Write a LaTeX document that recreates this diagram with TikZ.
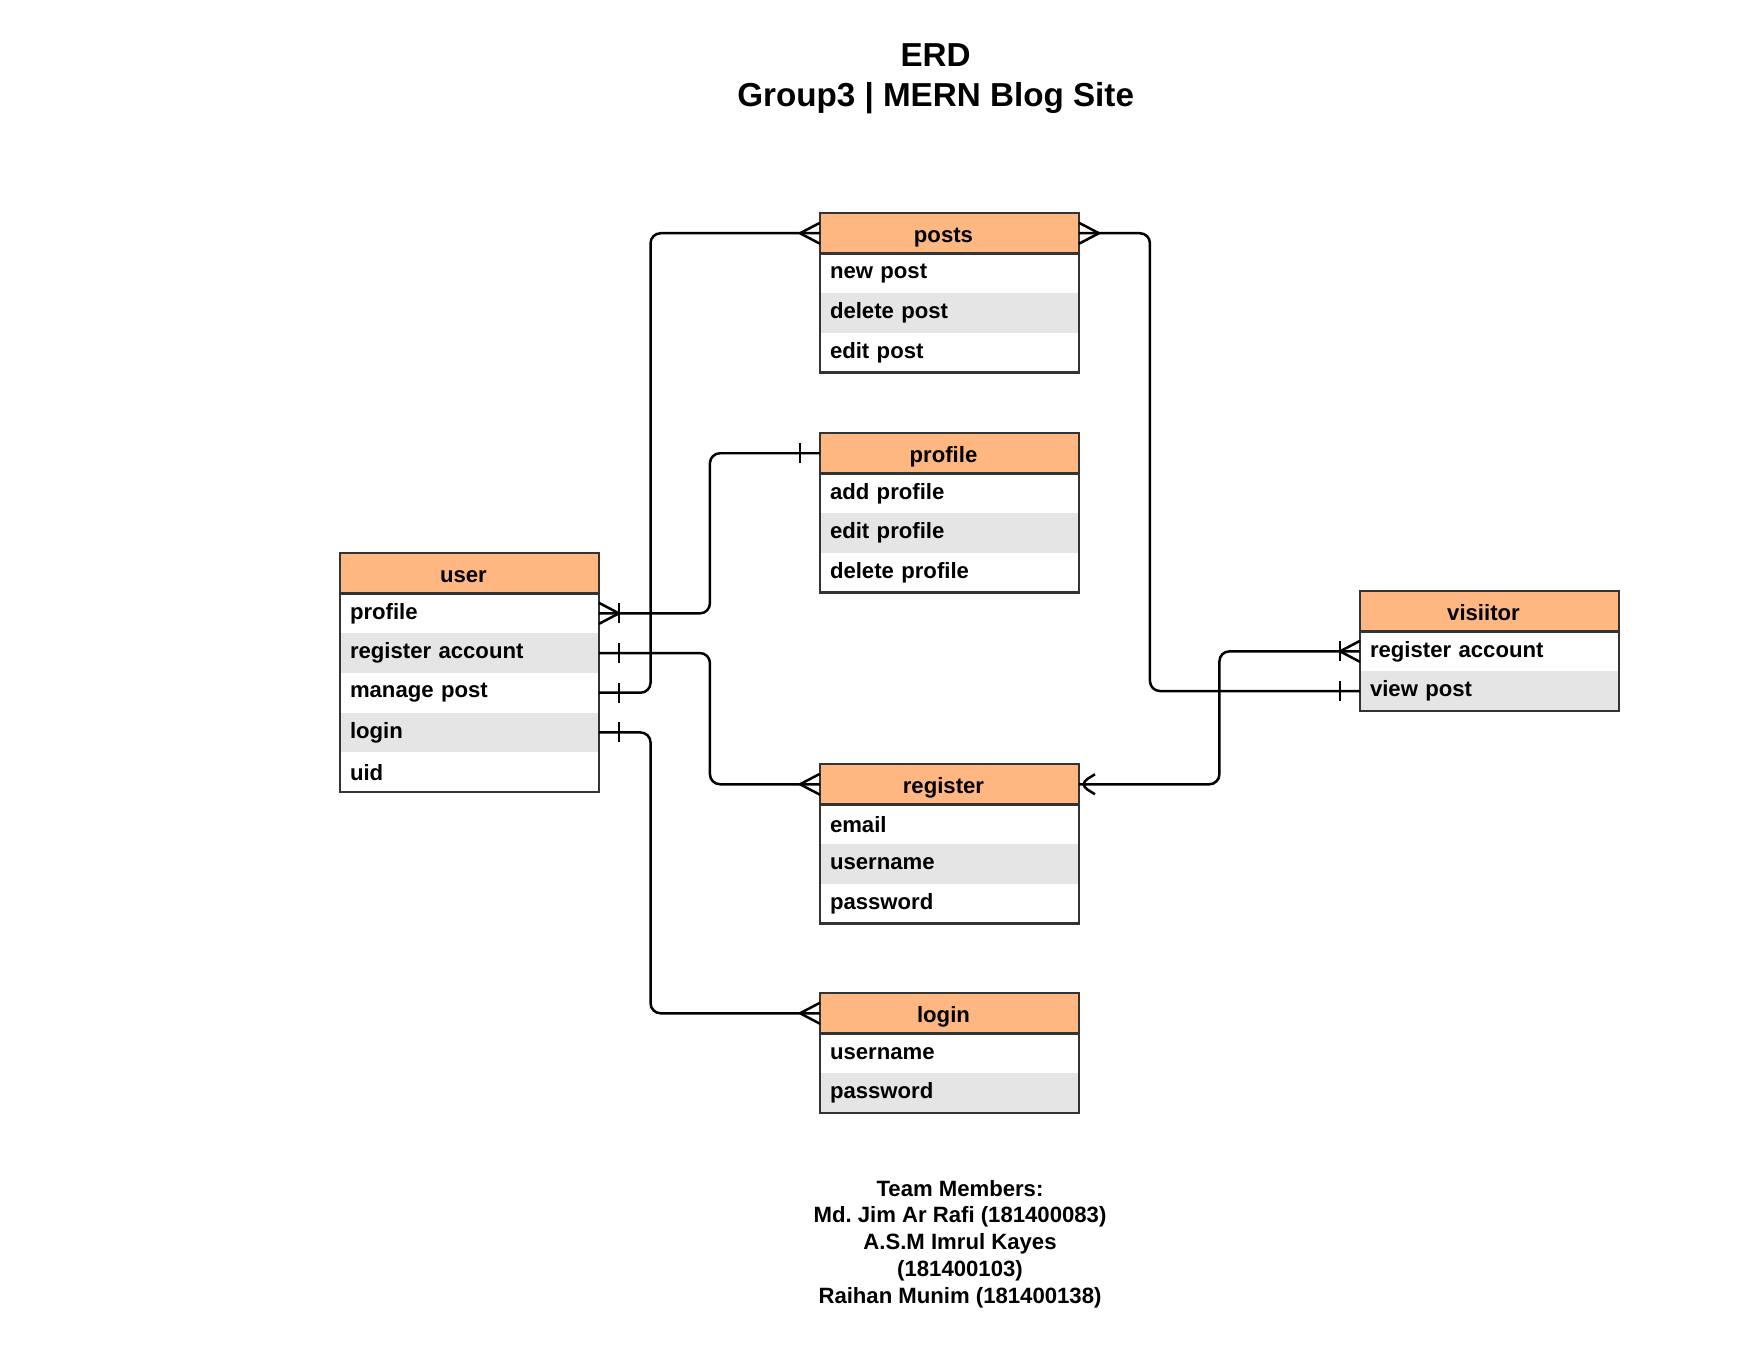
\documentclass[tikz,border=0pt]{standalone}
\usepackage{fontspec}
\setmainfont{Liberation Sans}
\usepackage{xcolor}
\definecolor{erdorange}{RGB}{255,183,130}
\definecolor{erdgray}{RGB}{229,229,229}
\definecolor{erdline}{RGB}{51,51,51}
\usetikzlibrary{positioning, calc, decorations.markings}

\newcommand{\erdfont}{\bfseries\fontsize{12.6}{15}\selectfont}

\tikzset{
  hdr/.style={draw=erdline, fill=erdorange, line width=0.05cm, minimum width=5.18cm,
              minimum height=0.81cm, inner sep=0pt, outer sep=0pt, font=\erdfont, anchor=north west,
              text height=0.36cm, text depth=0pt, execute at end node={\hspace*{0.24cm}}},
  attr/.style={fill=#1, inner xsep=0.2cm, inner ysep=0pt, text width=4.78cm, align=left,
               minimum height=0.794cm, outer sep=0pt, font=\erdfont, anchor=north west},
  frame/.style={draw=erdline, line width=0.05cm},
  conn/.style={draw=black, line width=0.05cm, rounded corners=0.2cm},
  crowstart/.style={postaction={decorate, decoration={markings,
      mark=at position 0.4cm with {\draw (0,0) -- (-0.4cm,0.21cm) (0,0) -- (-0.4cm,-0.21cm);}}}},
  crowend/.style={postaction={decorate, decoration={markings,
      mark=at position -0.4cm with {\draw (0,0) -- (0.4cm,0.21cm) (0,0) -- (0.4cm,-0.21cm);}}}},
  barstart/.style={postaction={decorate, decoration={markings,
      mark=at position 0.4cm with {\draw (0,-0.2cm) -- (0,0.2cm);}}}},
  barend/.style={postaction={decorate, decoration={markings,
      mark=at position -0.4cm with {\draw (0,-0.2cm) -- (0,0.2cm);}}}},
  openend/.style={postaction={decorate, decoration={markings,
      mark=at position -0.32cm with {\draw (0,0.2cm) -- (0.32cm,0) -- (0,-0.2cm);}}}}
}

\begin{document}
\begin{tikzpicture}[x=0.02cm, y=-0.02cm]
  \useasboundingbox (0,0) rectangle (1759,1359);

  % Title
  \node[font=\bfseries\fontsize{18.9}{22.9}\selectfont, align=center] (title) at (935.6,78.5)
        {ERD\\Group3 | MERN Blog Site};

  % posts
  \node[hdr] (posts) at (820,213) {posts};
  \foreach \i/\t/\c in {1/new post/white, 2/delete post/erdgray, 3/edit post/white}
    \node[attr=\c] (posts\i) at ($(posts.south west)+(0,{(\i-1)*39.7})$) {\t};
  \draw[frame] (posts.north west) rectangle (posts3.south east) (posts.south west) -- (posts.south east);

  % profile
  \node[hdr] (profile) at (820,433) {profile};
  \foreach \i/\t/\c in {1/add profile/white, 2/edit profile/erdgray, 3/delete profile/white}
    \node[attr=\c] (profile\i) at ($(profile.south west)+(0,{(\i-1)*39.7})$) {\t};
  \draw[frame] (profile.north west) rectangle (profile3.south east) (profile.south west) -- (profile.south east);

  % user
  \node[hdr] (user) at (340,553) {user};
  \foreach \i/\t/\c in {1/profile/white, 2/register account/erdgray, 3/manage post/white,
                        4/login/erdgray, 5/uid/white}
    \node[attr=\c] (user\i) at ($(user.south west)+(0,{(\i-1)*39.7})$) {\t};
  \draw[frame] (user.north west) rectangle (user5.south east) (user.south west) -- (user.south east);

  % visitor
  \node[hdr] (visitor) at (1360,591) {visiitor};
  \foreach \i/\t/\c in {1/register account/white, 2/view post/erdgray}
    \node[attr=\c] (visitor\i) at ($(visitor.south west)+(0,{(\i-1)*39.7})$) {\t};
  \draw[frame] (visitor.north west) rectangle (visitor2.south east) (visitor.south west) -- (visitor.south east);

  % register
  \node[hdr] (register) at (820,764) {register};
  \foreach \i/\t/\c in {1/email/white, 2/username/erdgray, 3/password/white}
    \node[attr=\c] (register\i) at ($(register.south west)+(0,{(\i-1)*39.7})$) {\t};
  \draw[frame] (register.north west) rectangle (register3.south east) (register.south west) -- (register.south east);

  % login
  \node[hdr] (login) at (820,993) {login};
  \foreach \i/\t/\c in {1/username/white, 2/password/erdgray}
    \node[attr=\c] (login\i) at ($(login.south west)+(0,{(\i-1)*39.7})$) {\t};
  \draw[frame] (login.north west) rectangle (login2.south east) (login.south west) -- (login.south east);

  % Relations
  \draw[conn, barstart, crowend] (user3.east) -- ++(51.6,0) |- (posts.west);
  \draw[conn, crowstart, barstart, barend] (user1.east) -- ++(111,0) |- (profile.west);
  \draw[conn, barstart, crowend] (user2.east) -- ++(111,0) |- (register.west);
  \draw[conn, barstart, crowend] (user4.east) -- ++(51.6,0) |- (login.west);
  \draw[conn, crowstart, barend] (posts.east) -- ++(71,0) |- (visitor2.west);
  \draw[conn, crowstart, barstart, openend] (visitor1.west) -- ++(-140.6,0) |- (register.east);

  % Team
  \node[font=\bfseries\fontsize{12.6}{15.25}\selectfont\frenchspacing, align=center] (team) at (960,1244)
        {Team Members:\\Md. Jim Ar Rafi (181400083)\\A.S.M Imrul Kayes\\(181400103)\\Raihan Munim (181400138)};
\end{tikzpicture}
\end{document}
